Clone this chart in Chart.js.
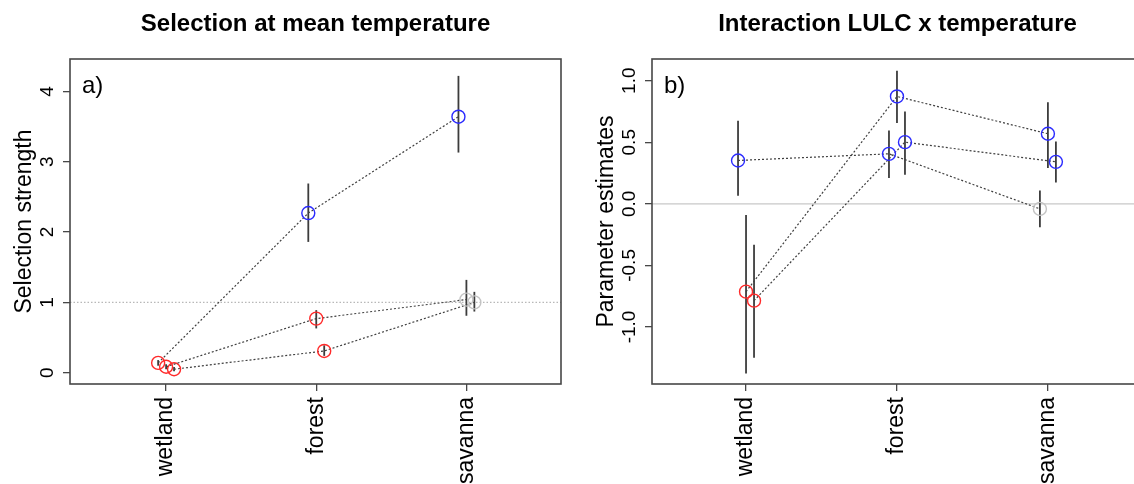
<!DOCTYPE html>
<html><head><meta charset="utf-8">
<script src="https://cdn.jsdelivr.net/npm/chart.js@4.4.1/dist/chart.umd.min.js"></script>
<style>
html,body{margin:0;padding:0;background:#fff;overflow:hidden;width:1134px;height:484px;}
#wrap{position:relative;width:1134px;height:484px;overflow:hidden;background:#fff;}
.box{position:absolute;top:0;height:484px;width:580px;}
#ba{left:0}
#bb{left:580px}
</style></head><body>
<div id="wrap"><div class="box" id="ba"><canvas id="ca" width="580" height="484"></canvas></div><div class="box" id="bb"><canvas id="cb" width="580" height="484"></canvas></div></div>
<script>
// ---------- data ----------
const categories = ['wetland', 'forest', 'savanna'];
const dodgeOffsets = [-0.053, 0, 0.053];

// Panel a: Selection at mean temperature
const aTitle = 'Selection at mean temperature';
const aYTitle = 'Selection strength';
const aLetter = 'a)';
const aYTicks = [0, 1, 2, 3, 4];
const aYTickLabels = ['0', '1', '2', '3', '4'];
const aRef = 1;
const aS1 = [0.14, 2.27, 3.64];
const aS1lo = [0.10, 1.86, 3.13];
const aS1hi = [0.18, 2.69, 4.22];
const aS1sig = ['neg', 'pos', 'pos'];
const aS2 = [0.085, 0.77, 1.04];
const aS2lo = [0.05, 0.63, 0.81];
const aS2hi = [0.12, 0.89, 1.32];
const aS2sig = ['neg', 'neg', 'ns'];
const aS3 = [0.05, 0.31, 1.00];
const aS3lo = [0.02, 0.24, 0.87];
const aS3hi = [0.08, 0.39, 1.15];
const aS3sig = ['neg', 'neg', 'ns'];

// Panel b: Interaction LULC x temperature
const bTitle = 'Interaction LULC x temperature';
const bYTitle = 'Parameter estimates';
const bLetter = 'b)';
const bYTicks = [-1, -0.5, 0, 0.5, 1];
const bYTickLabels = ['-1.0', '-0.5', '0.0', '0.5', '1.0'];
const bRef = 0;
const bS1 = [0.352, 0.406, -0.041];
const bS1lo = [0.065, 0.209, -0.19];
const bS1hi = [0.675, 0.596, 0.108];
const bS1sig = ['pos', 'pos', 'ns'];
const bS2 = [-0.713, 0.872, 0.569];
const bS2lo = [-1.377, 0.656, 0.29];
const bS2hi = [-0.09, 1.081, 0.824];
const bS2sig = ['neg', 'pos', 'pos'];
const bS3 = [-0.786, 0.501, 0.341];
const bS3lo = [-1.25, 0.236, 0.173];
const bS3hi = [-0.333, 0.75, 0.507];
const bS3sig = ['neg', 'pos', 'pos'];

// ---------- styles ----------
const sigColor = { pos: '#2b2bff', neg: '#ff2a2a', ns: '#c4c4c4' };
const FONT = "'Liberation Sans', Arial, Helvetica, sans-serif";
const AXIS_COL = '#474747';

function makeChart(canvasId, cfg) {
  const series = cfg.series;
  const datasets = series.map((s, si) => ({
    type: 'line',
    data: s.v.map((v, i) => ({ x: i + 1 + dodgeOffsets[si], y: v })),
    borderColor: '#404040',
    borderWidth: 1.2,
    borderDash: [2, 2],
    fill: false,
    tension: 0,
    pointRadius: 6.5,
    pointHoverRadius: 6.5,
    pointBorderWidth: 1.4,
    pointBackgroundColor: 'rgba(0,0,0,0)',
    pointBorderColor: s.sig.map(k => sigColor[k]),
    order: 0
  }));

  const plugin = {
    id: 'panelDeco_' + canvasId,
    beforeDraw(chart) {
      const ctx = chart.ctx;
      ctx.save();
      ctx.fillStyle = '#fff';
      ctx.fillRect(0, 0, chart.width, chart.height);
      ctx.restore();
    },
    beforeDatasetsDraw(chart) {
      const { ctx, chartArea: ca, scales: { x, y } } = chart;
      ctx.save();
      ctx.beginPath(); ctx.rect(ca.left, ca.top, ca.right - ca.left, ca.bottom - ca.top); ctx.clip();
      const ry = y.getPixelForValue(cfg.ref);
      ctx.strokeStyle = cfg.refColor; ctx.lineWidth = cfg.refWidth; ctx.setLineDash(cfg.refDash);
      ctx.beginPath(); ctx.moveTo(ca.left, ry); ctx.lineTo(ca.right, ry); ctx.stroke();
      ctx.setLineDash([]);
      ctx.strokeStyle = '#3c3c3c'; ctx.lineWidth = 1.8;
      series.forEach((s, si) => {
        s.lo.forEach((lo, i) => {
          const px = x.getPixelForValue(i + 1 + dodgeOffsets[si]);
          ctx.beginPath();
          ctx.moveTo(px, y.getPixelForValue(lo));
          ctx.lineTo(px, y.getPixelForValue(s.hi[i]));
          ctx.stroke();
        });
      });
      ctx.restore();
    },
    afterDraw(chart) {
      const { ctx, chartArea: ca, scales: { y } } = chart;
      ctx.save();
      // box
      ctx.strokeStyle = AXIS_COL; ctx.lineWidth = 1.6;
      ctx.strokeRect(ca.left, ca.top, ca.right - ca.left, ca.bottom - ca.top);
      // title
      ctx.fillStyle = '#000';
      ctx.font = 'bold 24px ' + FONT;
      ctx.textAlign = 'center'; ctx.textBaseline = 'alphabetic';
      ctx.fillText(cfg.title, (ca.left + ca.right) / 2, 31);
      // panel letter
      ctx.font = '24px ' + FONT;
      ctx.textAlign = 'left';
      ctx.fillText(cfg.letter, ca.left + 12, ca.top + 34);
      // y tick labels (rotated, parallel to axis)
      ctx.font = '19px ' + FONT;
      ctx.textAlign = 'center'; ctx.textBaseline = 'alphabetic';
      cfg.yTicks.forEach((v, i) => {
        const py = y.getPixelForValue(v);
        ctx.save();
        ctx.translate(ca.left - 17, py);
        ctx.rotate(-Math.PI / 2);
        ctx.fillText(cfg.yTickLabels[i], 0, 0);
        ctx.restore();
      });
      // y title
      ctx.font = '23px ' + FONT;
      ctx.save();
      ctx.translate(ca.left - 39, (ca.top + ca.bottom) / 2);
      ctx.rotate(-Math.PI / 2);
      ctx.fillText(cfg.yTitle, 0, 0);
      ctx.restore();
      ctx.restore();
    }
  };

  return new Chart(document.getElementById(canvasId), {
    data: { datasets },
    plugins: [plugin],
    options: {
      responsive: false,
      animation: false,
      events: [],
      layout: { padding: { left: 0, right: cfg.padRight, top: 59, bottom: 0 } },
      plugins: { legend: { display: false }, tooltip: { enabled: false }, title: { display: false } },
      scales: {
        x: {
          type: 'linear',
          min: cfg.xMin, max: cfg.xMax,
          afterBuildTicks: s => { s.ticks = categories.map((c, i) => ({ value: i + 1 })); },
          afterFit: s => { s.height = 100; },
          ticks: {
            callback: v => categories[Math.round(v) - 1],
            minRotation: 90, maxRotation: 90, autoSkip: false,
            font: { family: FONT, size: 23 }, color: '#000', padding: 6
          },
          grid: { drawOnChartArea: false, drawTicks: true, tickLength: 7, color: AXIS_COL, lineWidth: 1.3 },
          border: { display: false }
        },
        y: {
          type: 'linear',
          min: cfg.yMin, max: cfg.yMax,
          afterBuildTicks: s => { s.ticks = cfg.yTicks.map(v => ({ value: v })); },
          afterFit: s => { s.width = cfg.yWidth; },
          ticks: { display: false },
          grid: { drawOnChartArea: false, drawTicks: true, tickLength: 7, color: AXIS_COL, lineWidth: 1.3 },
          border: { display: false }
        }
      }
    }
  });
}

makeChart('ca', {
  title: aTitle, yTitle: aYTitle, letter: aLetter,
  yTicks: aYTicks, yTickLabels: aYTickLabels,
  ref: aRef, refColor: '#b8b8b8', refWidth: 1.1, refDash: [1.5, 2],
  xMin: 0.36, xMax: 3.63, yMin: -0.16, yMax: 4.46,
  yWidth: 70, padRight: 19,
  series: [
    { v: aS1, lo: aS1lo, hi: aS1hi, sig: aS1sig },
    { v: aS2, lo: aS2lo, hi: aS2hi, sig: aS2sig },
    { v: aS3, lo: aS3lo, hi: aS3hi, sig: aS3sig }
  ]
});

makeChart('cb', {
  title: bTitle, yTitle: bYTitle, letter: bLetter,
  yTicks: bYTicks, yTickLabels: bYTickLabels,
  ref: bRef, refColor: '#c8c8c8', refWidth: 1.4, refDash: [],
  xMin: 0.377, xMax: 3.63, yMin: -1.463, yMax: 1.176,
  yWidth: 72, padRight: 17,
  series: [
    { v: bS1, lo: bS1lo, hi: bS1hi, sig: bS1sig },
    { v: bS2, lo: bS2lo, hi: bS2hi, sig: bS2sig },
    { v: bS3, lo: bS3lo, hi: bS3hi, sig: bS3sig }
  ]
});
</script>
</body></html>
